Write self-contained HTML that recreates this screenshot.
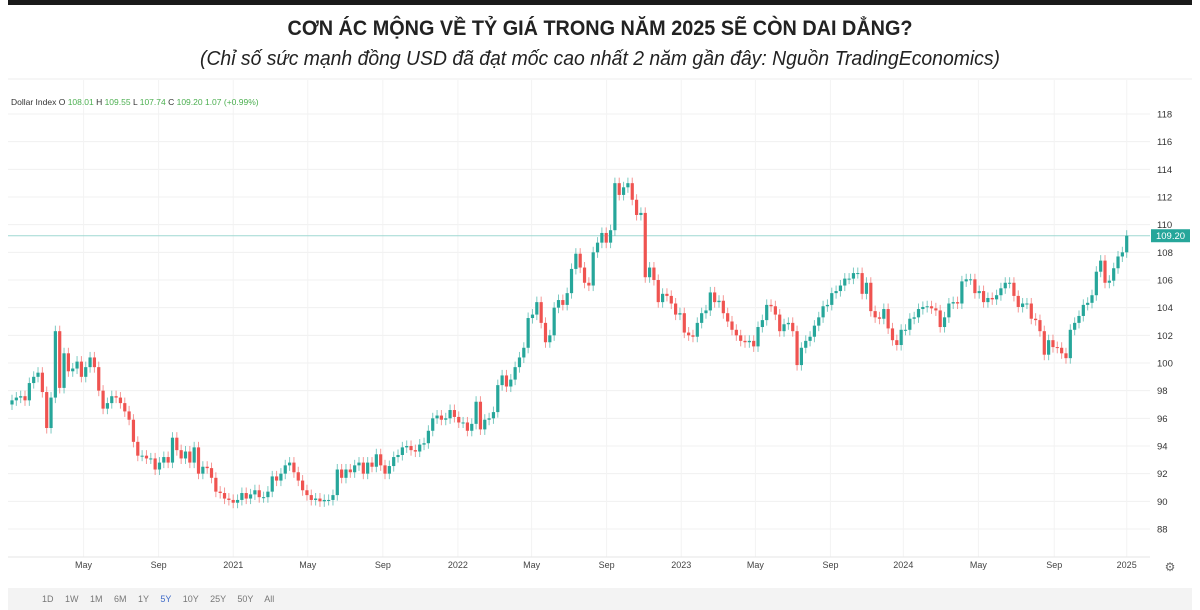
<!DOCTYPE html>
<html><head><meta charset="utf-8">
<style>
html,body{margin:0;padding:0;background:#fff;}
svg{display:block;font-family:"Liberation Sans",Arial,sans-serif;}
</style></head>
<body>
<svg id="c" width="1200" height="610" viewBox="0 0 1200 610">
  <rect x="8" y="0" width="1184" height="5" fill="#1a1a1a"/>
  <text x="600" y="35" text-anchor="middle" font-size="21" font-weight="bold" fill="#222" textLength="625" lengthAdjust="spacingAndGlyphs">CƠN ÁC MỘNG VỀ TỶ GIÁ TRONG NĂM 2025 SẼ CÒN DAI DẲNG?</text>
  <text x="600" y="65" text-anchor="middle" font-size="20" font-style="italic" fill="#222" textLength="800" lengthAdjust="spacingAndGlyphs">(Chỉ số sức mạnh đồng USD đã đạt mốc cao nhất 2 năm gần đây: Nguồn TradingEconomics)</text>
  <g id="grid"></g>
  <line x1="8" y1="79" x2="1192" y2="79" stroke="#eeeeee"/>
  <text x="11" y="105" font-size="8.5" fill="#333">Dollar Index O <tspan fill="#4caf50">108.01</tspan> H <tspan fill="#4caf50">109.55</tspan> L <tspan fill="#4caf50">107.74</tspan> C <tspan fill="#4caf50">109.20</tspan> <tspan fill="#4caf50"> 1.07 (+0.99%)</tspan></text>
  <g id="candles"></g>
  <g id="yaxis"></g>
  <g id="xaxis"></g>
  <line x1="8" y1="557" x2="1150" y2="557" stroke="#e6e6e6"/>
  <text x="1170" y="571" font-size="12" fill="#666" text-anchor="middle">⚙</text>
  <rect x="8" y="588" width="1184" height="22" fill="#f3f3f3"/>
  <text x="42" y="602" font-size="9" fill="#777" word-spacing="9">1D 1W 1M 6M 1Y <tspan fill="#3f6bc9">5Y</tspan> 10Y 25Y 50Y All</text>
</svg>
<script>
const closes = [97.3,97.5,97.6,97.3,98.55,99.0,99.3,97.9,95.3,97.5,102.3,98.2,100.7,99.4,99.6,100.1,99.0,99.7,100.4,99.7,98.0,96.7,97.1,97.6,97.5,97.1,96.5,95.9,94.3,93.3,93.3,93.1,93.1,92.3,92.8,93.2,92.8,94.6,93.7,93.1,93.6,92.8,93.9,92.0,92.5,92.4,91.7,90.7,90.6,90.2,90.1,89.9,90.1,90.6,90.2,90.5,90.8,90.3,90.3,90.7,91.8,91.5,92.0,92.6,92.8,
92.1,91.5,90.8,90.45,90.1,90.2,90.0,90.1,90.1,90.45,92.3,91.7,92.3,92.1,92.6,92.8,92.0,92.8,92.5,93.4,92.6,92.0,92.55,93.2,93.35,93.9,94.0,93.7,93.6,94.1,94.2,95.1,96.0,96.2,95.9,96.0,96.6,96.1,95.7,95.7,95.1,95.6,97.2,95.2,95.9,96.0,96.45,98.4,99.1,98.3,98.8,99.7,100.4,101.1,103.25,103.5,104.4,102.9,101.5,102.0,104.0,104.55,104.2,105.05,106.8,107.9,106.9,105.8,
105.6,108.0,108.7,109.4,108.7,109.6,113.0,112.15,112.7,113.0,111.8,110.7,110.85,106.2,106.9,106.0,104.4,105.0,104.85,104.3,103.5,103.6,102.2,102.0,101.9,102.9,103.6,103.8,105.1,104.4,104.5,103.6,103.0,102.4,102.0,101.6,101.5,101.6,101.2,102.6,103.1,104.2,104.1,103.5,102.3,102.8,102.9,102.3,99.85,101.1,101.6,101.9,102.7,103.3,104.1,104.2,105.05,105.2,105.6,106.1,106.1,106.5,106.5,105.0,105.8,
103.75,103.3,103.2,103.9,102.5,101.65,101.3,102.4,102.4,103.2,103.3,103.9,104.05,104.1,103.95,103.8,102.6,103.3,104.3,104.4,104.3,105.9,106.05,106.05,105.05,105.2,104.4,104.7,104.6,104.9,105.4,105.8,105.8,104.85,104.05,104.3,104.3,103.2,103.1,102.3,100.6,101.65,101.15,101.1,100.7,100.35,102.4,102.9,103.4,104.2,104.35,104.9,106.6,107.4,105.8,105.95,106.85,107.7,108.0,109.2];
const firstOpen = 97.0;
const yTicks = [88,90,92,94,96,98,100,102,104,106,108,110,112,114,116,118];
const xLabels = ["May","Sep","2021","May","Sep","2022","May","Sep","2023","May","Sep","2024","May","Sep","2025"];
const xLabelWeeks = [16.5,33.8,51,68.2,85.5,102.8,119.8,137.1,154.3,171.4,188.7,205.5,222.8,240.3,257];
const lastPrice = 109.20;

const NS = "http://www.w3.org/2000/svg";
const svg = document.getElementById('c');
const yScale = v => 114 + (118 - v) * 13.833;
const x0 = 12, step = (1126.7 - 12) / 257;
const xScale = i => x0 + i * step;
function mk(tag, attrs, parent){const e=document.createElementNS(NS,tag);for(const k in attrs)e.setAttribute(k,attrs[k]);parent.appendChild(e);return e;}

const grid = document.getElementById('grid');
const yaxis = document.getElementById('yaxis');
yTicks.forEach(v=>{
  const gl = mk('line',{x1:8,x2:1150,y1:yScale(v),y2:yScale(v),stroke:'#f0f0f0'},grid);
  
  
  const t = mk('text',{x:1157,y:yScale(v)+3.5,'font-size':9.5,fill:'#333'},yaxis);
  t.textContent = v;
  
  
});
const xaxis = document.getElementById('xaxis');
xLabels.forEach((lab,k)=>{
  const x = xScale(xLabelWeeks[k]);
  const gl = mk('line',{x1:x,x2:x,y1:80,y2:557,stroke:'#f3f3f3'},grid);
  
  
  const t = mk('text',{x:x,y:568,'font-size':9,fill:'#444','text-anchor':'middle'},xaxis);
  t.textContent = lab;
  
  
});
// last price line & tag
const pl = mk('line',{x1:8,x2:1150,y1:yScale(lastPrice),y2:yScale(lastPrice),stroke:'#9fd8d2'},grid);


const tagG = mk('g',{},svg);


mk('rect',{x:1151,y:yScale(lastPrice)-6.5,width:39,height:13,fill:'#26a69a'},tagG);
const tt = mk('text',{x:1170.5,y:yScale(lastPrice)+3.5,'font-size':9.5,fill:'#fff','text-anchor':'middle'},tagG);
tt.textContent = lastPrice.toFixed(2);

const cg = document.getElementById('candles');
closes.forEach((c,i)=>{
  const o = i===0 ? firstOpen : closes[i-1];
  const up = c >= o;
  const col = up ? '#26a69a' : '#ef5350';
  const x = xScale(i);
  const hi = Math.max(o,c) + 0.4, lo = Math.min(o,c) - 0.4;
  const g = mk('g',{},cg);
  
  
  mk('line',{x1:x,x2:x,y1:yScale(hi),y2:yScale(lo),stroke:col,'stroke-opacity':0.6,'stroke-width':1},g);
  const top = yScale(Math.max(o,c)), bot = yScale(Math.min(o,c));
  mk('rect',{x:x-1.6,y:top,width:3.2,height:Math.max(1,bot-top),fill:col},g);
});
</script>
</body></html>
